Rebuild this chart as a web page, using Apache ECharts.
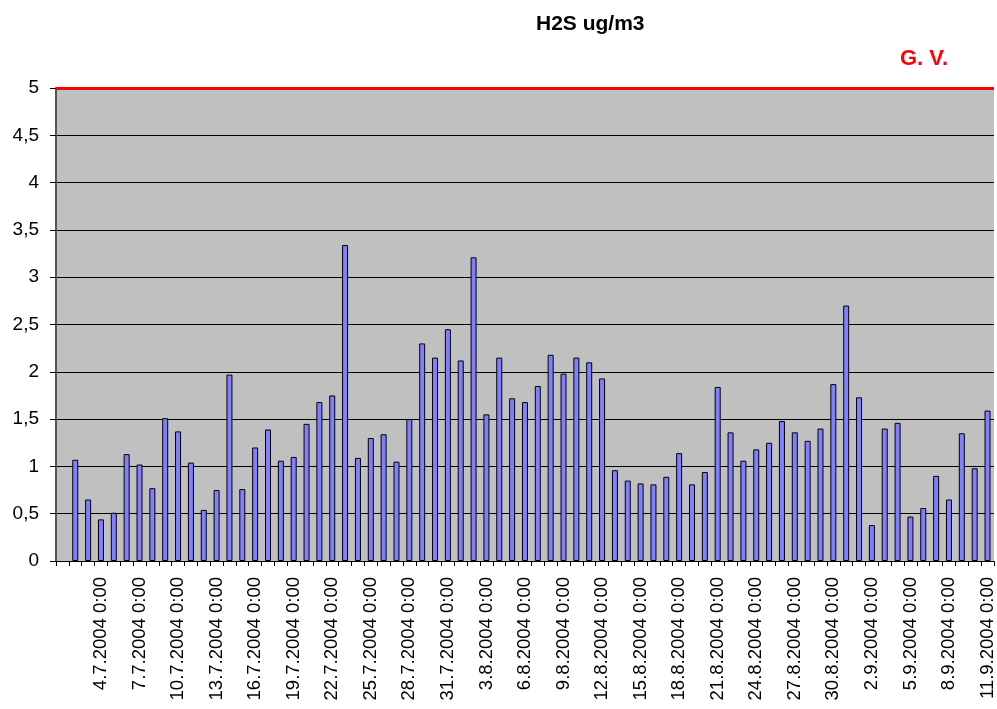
<!DOCTYPE html>
<html>
<head>
<meta charset="utf-8">
<script src="https://cdn.jsdelivr.net/npm/echarts@6/dist/echarts.min.js"></script>
<style>
    html, body { margin: 0; padding: 0; background: #fff; }
    #J_bar { width: 997px; height: 709px; }
</style>
</head>
<body>
<div id="J_bar"></div>
<script>
var days = [
    '1.7.2004 0:00', '2.7.2004 0:00', '3.7.2004 0:00', '4.7.2004 0:00', '5.7.2004 0:00', '6.7.2004 0:00',
    '7.7.2004 0:00', '8.7.2004 0:00', '9.7.2004 0:00', '10.7.2004 0:00', '11.7.2004 0:00', '12.7.2004 0:00',
    '13.7.2004 0:00', '14.7.2004 0:00', '15.7.2004 0:00', '16.7.2004 0:00', '17.7.2004 0:00', '18.7.2004 0:00',
    '19.7.2004 0:00', '20.7.2004 0:00', '21.7.2004 0:00', '22.7.2004 0:00', '23.7.2004 0:00', '24.7.2004 0:00',
    '25.7.2004 0:00', '26.7.2004 0:00', '27.7.2004 0:00', '28.7.2004 0:00', '29.7.2004 0:00', '30.7.2004 0:00',
    '31.7.2004 0:00', '1.8.2004 0:00', '2.8.2004 0:00', '3.8.2004 0:00', '4.8.2004 0:00', '5.8.2004 0:00',
    '6.8.2004 0:00', '7.8.2004 0:00', '8.8.2004 0:00', '9.8.2004 0:00', '10.8.2004 0:00', '11.8.2004 0:00',
    '12.8.2004 0:00', '13.8.2004 0:00', '14.8.2004 0:00', '15.8.2004 0:00', '16.8.2004 0:00', '17.8.2004 0:00',
    '18.8.2004 0:00', '19.8.2004 0:00', '20.8.2004 0:00', '21.8.2004 0:00', '22.8.2004 0:00', '23.8.2004 0:00',
    '24.8.2004 0:00', '25.8.2004 0:00', '26.8.2004 0:00', '27.8.2004 0:00', '28.8.2004 0:00', '29.8.2004 0:00',
    '30.8.2004 0:00', '31.8.2004 0:00', '1.9.2004 0:00', '2.9.2004 0:00', '3.9.2004 0:00', '4.9.2004 0:00',
    '5.9.2004 0:00', '6.9.2004 0:00', '7.9.2004 0:00', '8.9.2004 0:00', '9.9.2004 0:00', '10.9.2004 0:00',
    '11.9.2004 0:00'
];
// first day has no measurement
var h2s = [null, 1.07, 0.65, 0.44, 0.51, 1.13, 1.02, 0.77, 1.51, 1.37, 1.04, 0.54, 0.75, 1.97, 0.76,
    1.2, 1.39, 1.06, 1.1, 1.45, 1.68, 1.75, 3.34, 1.09, 1.3, 1.34, 1.05, 1.5, 2.3, 2.15, 2.45, 2.12,
    3.21, 1.55, 2.15, 1.72, 1.68, 1.85, 2.18, 1.98, 2.15, 2.1, 1.93, 0.96, 0.85, 0.82, 0.81, 0.89,
    1.14, 0.81, 0.94, 1.84, 1.36, 1.06, 1.18, 1.25, 1.48, 1.36, 1.27, 1.4, 1.87, 2.7, 1.73, 0.38,
    1.4, 1.46, 0.47, 0.56, 0.9, 0.65, 1.35, 0.98, 1.59];
var guideValue = 5;

var myChart = echarts.init(document.getElementById('J_bar'));
var font = "'Liberation Sans', Arial, sans-serif";

var option = {
    animation: false,
    title: [{
        text: 'H2S ug/m3',
        left: 536,
        top: 14,
        padding: 0,
        textStyle: { fontFamily: font, fontSize: 21, fontWeight: 'bold', color: '#000' }
    }, {
        text: 'G. V.',
        left: 900,
        top: 48,
        padding: 0,
        textStyle: { fontFamily: font, fontSize: 22, fontWeight: 'bold', color: '#ff0000' }
    }],
    grid: {
        show: true,
        backgroundColor: '#c0c0c0',
        borderWidth: 0,
        top: 88,
        bottom: 148,
        left: 56,
        right: 0
    },
    xAxis: {
        type: 'category',
        data: days,
        boundaryGap: true,
        axisLine: { show: true, lineStyle: { color: '#000', width: 1 } },
        axisTick: { show: true, interval: 0, length: 5, lineStyle: { color: '#000' } },
        axisLabel: {
            rotate: 90,
            margin: 16,
            interval: function (index) {
                return index > 0 && index % 3 === 0;
            },
            fontFamily: font,
            fontSize: 18.5,
            color: '#000'
        },
        splitLine: { show: false }
    },
    yAxis: {
        type: 'value',
        min: 0,
        max: 5,
        interval: 0.5,
        axisLine: { show: true, lineStyle: { color: '#555', width: 2 } },
        axisTick: { show: true, length: 6, lineStyle: { color: '#000' } },
        axisLabel: {
            margin: 17,
            fontFamily: font,
            fontSize: 19,
            color: '#000',
            formatter: function (value) {
                return String(value).replace('.', ',');
            }
        },
        splitLine: { show: true, lineStyle: { color: '#000', width: 1 } }
    },
    series: [{
        type: 'bar',
        name: 'H2S',
        data: h2s,
        barWidth: 6,
        itemStyle: { color: '#8080ff', borderColor: '#000', borderWidth: 1 },
        markLine: {
            silent: true,
            symbol: 'none',
            label: { show: false },
            lineStyle: { color: '#ff0000', width: 3, type: 'solid' },
            data: [{ yAxis: guideValue }]
        }
    }]
};

myChart.setOption(option);
</script>
</body>
</html>
